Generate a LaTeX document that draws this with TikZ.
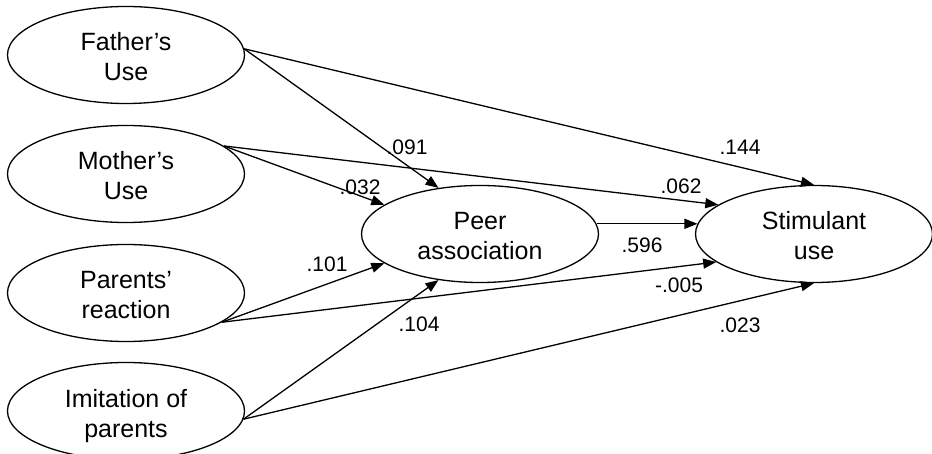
\documentclass[tikz,border=0pt]{standalone}
\usepackage{fontspec}
\setmainfont{Liberation Sans}
\usepackage{tikz}
\usetikzlibrary{shapes,arrows.meta,positioning}

\begin{document}
\begin{tikzpicture}[x=1pt, y=-1pt,
    var/.style={draw, ellipse, line width=1.3pt, minimum width=237pt, minimum height=97pt,
        inner sep=0pt, align=center, text height=52pt, text depth=0pt,
        font=\fontsize{25}{30}\selectfont},
    effect/.style={-{Triangle[length=13pt,width=10pt]}, line width=1.3pt},
    coef/.style={font=\fontsize{21}{25}\selectfont, inner sep=0pt}]
    \useasboundingbox (0,0) rectangle (932,454);

    % Parental factors
    \node[var] (father) at (126,55) {Father’s\\Use};
    \node[var] (mother) at (126,174) {Mother’s\\Use};
    \node[var] (parents) at (126,293) {Parents’\\reaction};
    \node[var] (imitation) at (126,411) {Imitation of\\parents};

    % Mediator and outcome
    \node[var] (peer) at (480,234) {Peer\\association};
    \node[var] (stim) at (814,234) {Stimulant\\use};

    % Paths
    \draw[effect] (father.3) -- (stim.north);
    \draw[effect] (father.3) -- (peer.132);
    \draw[effect] (mother.16) -- (stim.163);
    \draw[effect] (mother.16) -- (peer.163);
    \draw[effect] (peer.5) -- (stim.175);
    \draw[effect] (parents.-17) -- (peer.197);
    \draw[effect] (parents.-17) -- (stim.196);
    \draw[effect] (imitation.-4) -- (peer.228);
    \draw[effect] (imitation.-4) -- (stim.south);

    % Coefficients
    \node[coef] (c144) at (740,147.5) {.144};
    \node[coef] (c091) at (407,147) {.091};
    \node[coef] (c062) at (681,186) {.062};
    \node[coef] (c032) at (360,187) {.032};
    \node[coef] (c596) at (642,245) {.596};
    \node[coef] (c101) at (327,264) {.101};
    \node[coef] (c005) at (679,285) {-.005};
    \node[coef] (c104) at (419,324) {.104};
    \node[coef] (c023) at (740,325) {.023};
\end{tikzpicture}
\end{document}
